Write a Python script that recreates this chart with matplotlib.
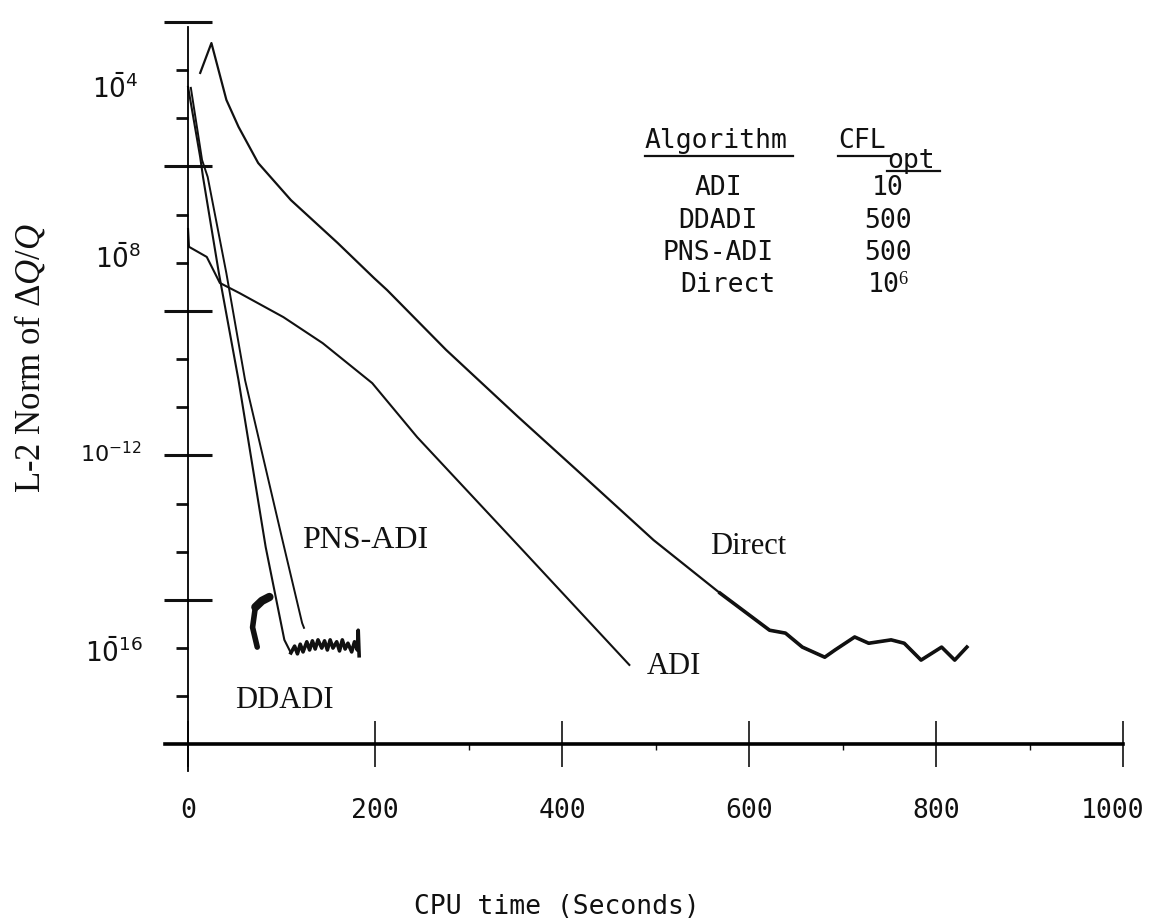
import numpy as np
import matplotlib; matplotlib.use("Agg")
import matplotlib.pyplot as plt
from matplotlib.ticker import FixedLocator, NullFormatter
from matplotlib.lines import Line2D
from matplotlib.transforms import ScaledTranslation

INK = "#111111"
MONO = "DejaVu Sans Mono"
SERIF = "Liberation Serif"
NARROW = ["Liberation Sans Narrow", "DejaVu Sans"]
plt.rcParams.update({"font.family": MONO, "text.color": INK, "mathtext.fontset": "custom",
                     "mathtext.rm": SERIF, "mathtext.it": SERIF + ":italic"})

# convergence histories: CPU time (s) vs log10 of the L-2 norm of dQ/Q
direct_t = [13, 25, 41, 54, 75, 110, 160, 199, 213, 276, 353, 424, 498, 569, 622, 639,
            657, 681, 692, 713, 728, 752, 766, 784, 806, 820, 833]
direct_log = [-4.06, -3.44, -4.62, -5.18, -5.93, -6.70, -7.59, -8.32, -8.57, -9.81, -11.2,
              -12.45, -13.76, -14.86, -15.63, -15.69, -15.98, -16.19, -16.04, -15.77, -15.90,
              -15.83, -15.90, -16.25, -15.98, -16.25, -15.98]
adi_t = [0, 1, 20, 34, 55, 102, 144, 197, 245, 308, 358, 472]
adi_log = [-7.30, -7.67, -7.88, -8.42, -8.63, -9.13, -9.67, -10.5, -11.62, -12.93, -13.97, -16.35]
ddadi_t = [0, 13, 16, 33, 54, 83, 103, 110, 114, 117, 120, 123, 127, 130, 133, 136, 139, 143,
           146, 149, 152, 155, 159, 162, 165, 168, 171, 175, 178, 181, 182, 183]
ddadi_log = [-4.35, -5.81, -6.22, -8.22, -10.44, -13.9, -15.83, -16.10, -15.96, -16.12, -15.92,
             -16.08, -15.87, -16.04, -15.85, -16.02, -15.83, -16.00, -15.85, -16.04, -15.83,
             -16.00, -15.87, -16.06, -15.83, -16.02, -15.90, -16.08, -15.87, -16.04, -15.63, -16.16]
pns_t = [3, 15, 21, 41, 61, 101, 122, 124]
pns_log = [-4.37, -5.87, -6.22, -8.22, -10.44, -13.76, -15.48, -15.58]
ink_t = [87, 79, 72, 69, 74]
ink_log = [-14.94, -15.02, -15.15, -15.57, -15.98]

algorithms = ["ADI", "DDADI", "PNS-ADI", "Direct"]
cfl_opt = ["10", "500", "500", "10$^6$"]

x_ticks = [0, 200, 400, 600, 800, 1000]
x_minor = [300, 500, 700, 900]
y_long = [-3, -6, -9, -12, -15]
y_short = [-4, -5, -7, -8, -10, -11, -13, -14, -16, -17]
y_labels = [r"$\mathregular{1\bar{0}^{4}}$", r"$\mathregular{1\bar{0}^{8}}$",
            r"$\mathregular{10^{-12}}$", r"$\mathregular{1\bar{0}^{16}}$"]

W, H = 1150, 924
def fp(x, y):
    return x / W, 1 - y / H

fig = plt.figure(figsize=(W / 100, H / 100), dpi=100)
ax = fig.add_axes([160 / W, (H - 773.3) / H, 963 / W, 765.9 / H])
ax.set_yscale("log")
ax.set_xlim(-30, 1000)
ax.set_ylim(10 ** -18.6, 10 ** -2.7)

p = lambda v: 10.0 ** np.asarray(v)
ax.plot(direct_t, p(direct_log), color=INK, lw=1.6, solid_joinstyle="round")
ax.plot(direct_t[13:], p(direct_log[13:]), color=INK, lw=2.6, solid_joinstyle="round")
ax.plot(adi_t, p(adi_log), color=INK, lw=1.5)
ax.plot(ddadi_t, p(ddadi_log), color=INK, lw=1.5)
ax.plot(ddadi_t[7:], p(ddadi_log[7:]), color=INK, lw=2.6)
ax.plot(pns_t, p(pns_log), color=INK, lw=1.4)
ax.plot(ink_t[:3], p(ink_log[:3]), color=INK, lw=6, solid_capstyle="round")
ax.plot(ink_t[2:], p(ink_log[2:]), color=INK, lw=4, solid_capstyle="round")

for s in ("top", "right"):
    ax.spines[s].set_visible(False)
ax.spines["left"].set_position(("data", 0))
ax.spines["left"].set_bounds(10 ** -18.55, 10 ** -3.1)
ax.spines["left"].set_linewidth(1.3)
ax.spines["bottom"].set_position(("data", 1e-18))
ax.spines["bottom"].set_bounds(-25, 1000)
ax.spines["bottom"].set_linewidth(2.6)

ax.yaxis.set_major_locator(FixedLocator(p(y_long)))
ax.yaxis.set_minor_locator(FixedLocator(p(y_short)))
ax.yaxis.set_major_formatter(NullFormatter())
ax.yaxis.set_minor_formatter(NullFormatter())
ax.tick_params(axis="y", which="major", direction="inout", length=35, width=2.2, color=INK)
ax.tick_params(axis="y", which="minor", direction="out", length=9, width=2.0, color=INK)

ax.set_xticks(x_ticks, [str(v) for v in x_ticks])
ax.set_xticks(x_minor, minor=True)
ax.tick_params(axis="x", which="major", direction="inout", length=33, width=1.2, color=INK,
               labelsize=19, pad=22, labelcolor=INK)
ax.tick_params(axis="x", which="minor", direction="out", length=4, width=1.0, color=INK)
# keep the last tick label inside the page
last = ax.get_xticklabels()[-1]
last.set_transform(last.get_transform() + ScaledTranslation(-0.1, 0, fig.dpi_scale_trans))

# decade labels, baseline placed in figure pixels
for s, (x, y, size) in zip(y_labels, [(92, 98, 19), (95, 268, 19), (80, 462, 16), (85, 662, 19)]):
    fig.text(*fp(x, y), s, fontsize=size, family=NARROW, ha="left", va="baseline")

fig.text(*fp(557, 907), "CPU time (Seconds)", fontsize=19, ha="center", va="center")
fig.text(*fp(30, 358), r"L-2 Norm of $\Delta Q/Q$", family=SERIF, fontsize=25,
         rotation=90, ha="center", va="center")

# curve names
for name, (x, y, size) in {"PNS-ADI": (302, 541, 23), "DDADI": (235, 700, 22),
                           "ADI": (647, 667, 22), "Direct": (710, 547, 22)}.items():
    fig.text(*fp(x, y), name, family=SERIF, fontsize=size, ha="left", va="center")

# algorithm / optimal CFL table
fig.text(*fp(645, 141), "Algorithm", fontsize=19, ha="left", va="center")
fig.text(*fp(838, 141), "CFL", fontsize=19, ha="left", va="center")
fig.text(*fp(887, 161), "opt", fontsize=19, ha="left", va="center")
for x1, x2, y in [(645, 793, 156), (838, 892, 156), (887, 940, 171)]:
    fig.add_artist(Line2D([x1 / W, x2 / W], [1 - y / H] * 2, transform=fig.transFigure,
                          color=INK, lw=1.6))
for i, (a, c) in enumerate(zip(algorithms, cfl_opt)):
    y = 188 + 32.5 * i
    fig.text(*fp(728 if a == "Direct" else 718, y), a, fontsize=19, ha="center", va="center")
    fig.text(*fp(888, y), c, fontsize=19, ha="center", va="center")

fig.savefig("out.png", dpi=100, facecolor="white")
